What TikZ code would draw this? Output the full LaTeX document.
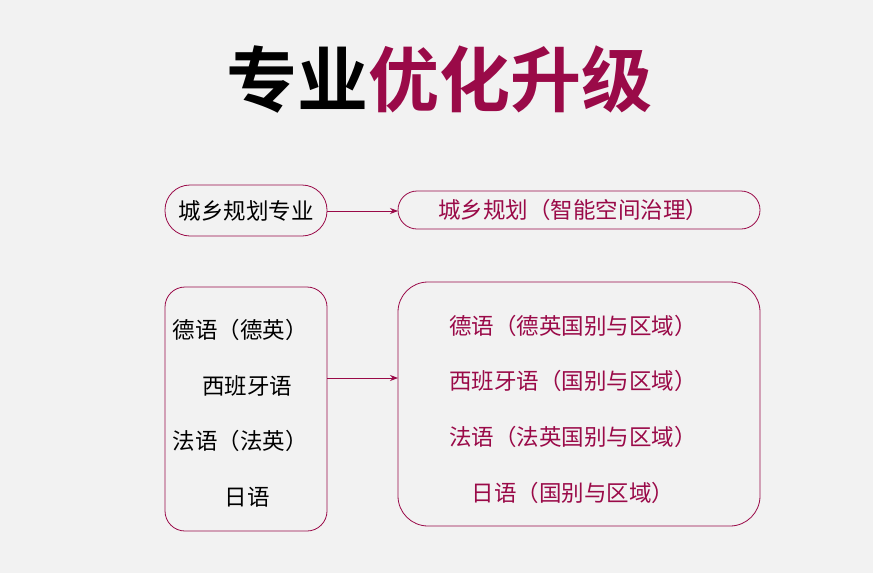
\documentclass[tikz,border=0pt]{standalone}
\usepackage{fontspec}
\setmainfont{Noto Sans CJK SC}
\newfontfamily\cjkbold{Noto Sans CJK SC Bold}
\usetikzlibrary{arrows.meta}
\definecolor{plum}{HTML}{9A0A48}
\definecolor{bgray}{HTML}{F2F2F2}
\tikzset{
  itemtext/.style = {font=\fontsize{22.5}{26}\selectfont},
  frame/.style = {draw=plum, line width=0.8pt},
  link/.style = {-{Stealth[length=8pt,width=6pt]}, draw=plum, line width=0.8pt}
}
\begin{document}
\begin{tikzpicture}[x=1pt,y=-1pt]
\fill [bgray] (0,0) rectangle (873,573);
\useasboundingbox (0,0) rectangle (873,573);
%% title
\node (title) at (439,80) {\cjkbold\fontsize{71}{76}\selectfont 专业\textcolor{plum}{优化升级}};
%% top row
\draw [frame, rounded corners=25] (165,185) rectangle (327,236);
\node [itemtext] (old) at (246,211) {城乡规划专业};
\draw [frame, rounded corners=19] (398,191) rectangle (760,229);
\node [itemtext, text=plum] (new) at (573,210) {城乡规划（智能空间治理）};
\coordinate (oldR) at (327,211);
\coordinate (newL) at (398,211);
\draw [link] (oldR) -- (newL);
%% bottom row
\draw [frame, rounded corners=20] (165,287) rectangle (327,531);
\draw [frame, rounded corners=30] (398,282) rectangle (760,526);
\node [itemtext] (de) at (240,330) {德语（德英）};
\node [itemtext] (es) at (247,386) {西班牙语};
\node [itemtext] (fr) at (240,441) {法语（法英）};
\node [itemtext] (jp) at (247,497) {日语};
\node [itemtext, text=plum] (de2) at (573,326) {德语（德英国别与区域）};
\node [itemtext, text=plum] (es2) at (573,381) {西班牙语（国别与区域）};
\node [itemtext, text=plum] (fr2) at (573,437) {法语（法英国别与区域）};
\node [itemtext, text=plum] (jp2) at (573,493) {日语（国别与区域）};
\coordinate (listR) at (327,378);
\coordinate (list2L) at (398,378);
\draw [link] (listR) -- (list2L);
\end{tikzpicture}
\end{document}
